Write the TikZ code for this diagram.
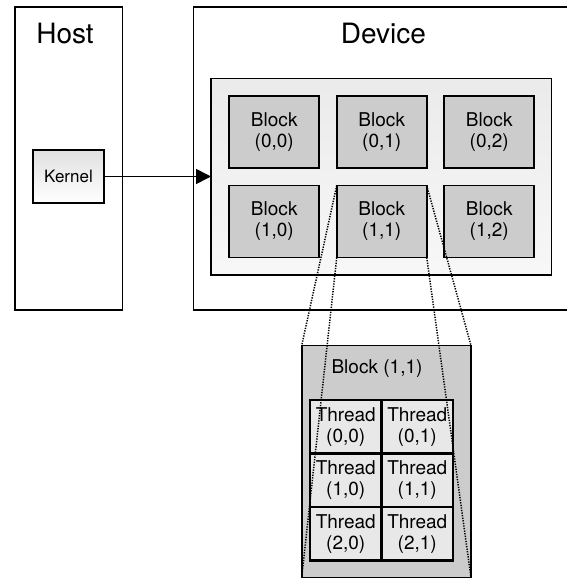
\documentclass[tikz,border=0pt]{standalone}
\usepackage{fontspec}
\setmainfont{TeX Gyre Heros}
\usetikzlibrary{positioning,arrows.meta}

\definecolor{blockgray}{gray}{0.8}
\definecolor{threadgray}{gray}{0.91}
\definecolor{gridtop}{gray}{0.92}
\definecolor{gridbottom}{gray}{0.97}
\definecolor{kerneltop}{gray}{0.88}

\begin{document}
\begin{tikzpicture}[
	x=1pt,y=-1pt,
	outerbox/.style={
		rectangle,
		draw=black,
		fill=white,
		line width=1.6pt,
		inner sep=0pt,
		outer sep=0pt},
	blockbox/.style={
		outerbox,
		fill=blockgray,
		minimum width=90pt,
		minimum height=72pt,
		align=center,
		font=\fontsize{19}{21}\selectfont},
	threadbox/.style={
		outerbox,
		fill=threadgray,
		line width=2.2pt,
		minimum width=71.5pt,
		minimum height=53.5pt,
		align=center,
		font=\fontsize{19}{21}\selectfont},
	titlefont/.style={font=\fontsize{28}{30}\selectfont},
	myarrow/.style={-{Triangle[length=15pt,width=15pt]},line width=1.6pt},
	zoomline/.style={line width=1.5pt,dash pattern=on 1.3pt off 1.3pt},
	node distance=17.5pt and 17.5pt
	]
	\useasboundingbox (0,0) rectangle (567,579);

	% host and device
	\node[outerbox,minimum width=107.5pt,minimum height=303pt,anchor=north west] (host) at (15,7) {};
	\node[titlefont] (hostlabel) at (65,33.3) {Host};
	\node[outerbox,minimum width=420pt,minimum height=303pt,anchor=north west] (device) at (193.5,7) {};
	\node[titlefont] (devicelabel) at (383.4,33.3) {Device};

	\node[outerbox,top color=kerneltop,bottom color=white,minimum width=71.5pt,minimum height=53pt,
		font=\fontsize{17}{20}\selectfont] (kernel) at (68.5,176.5) {Kernel};

	% grid of blocks
	\node[outerbox,top color=gridtop,bottom color=gridbottom,minimum width=340.5pt,minimum height=196.5pt,anchor=north west] (grid) at (211,78.5) {};
	\node[blockbox] (b00) at (274.25,132) {Block\\(0,0)};
	\node[blockbox,right=of b00] (b01) {Block\\(0,1)};
	\node[blockbox,right=of b01] (b02) {Block\\(0,2)};
	\node[blockbox,below=of b00] (b10) {Block\\(1,0)};
	\node[blockbox,right=of b10] (b11) {Block\\(1,1)};
	\node[blockbox,right=of b11] (b12) {Block\\(1,2)};

	\draw[myarrow] (kernel.east) -- (grid.west |- kernel.east);

	% block (1,1) zoomed
	\node[outerbox,fill=blockgray,minimum width=169.3pt,minimum height=232pt,anchor=north west] (big) at (301.7,345.5) {};
	\node[font=\fontsize{19}{21}\selectfont] (bigtitle) at (377,369) {Block (1,1)};
	\node[threadbox] (t00) at (345.75,426.75) {Thread\\(0,0)};
	\node[threadbox,right=0pt of t00] (t01) {Thread\\(0,1)};
	\node[threadbox,below=0pt of t00] (t10) {Thread\\(1,0)};
	\node[threadbox,right=0pt of t10] (t11) {Thread\\(1,1)};
	\node[threadbox,below=0pt of t10] (t20) {Thread\\(2,0)};
	\node[threadbox,right=0pt of t20] (t21) {Thread\\(2,1)};

	\foreach \a in {north west,south west,north east,south east}
		\draw[zoomline] (b11.\a) -- (big.\a);
\end{tikzpicture}
\end{document}
